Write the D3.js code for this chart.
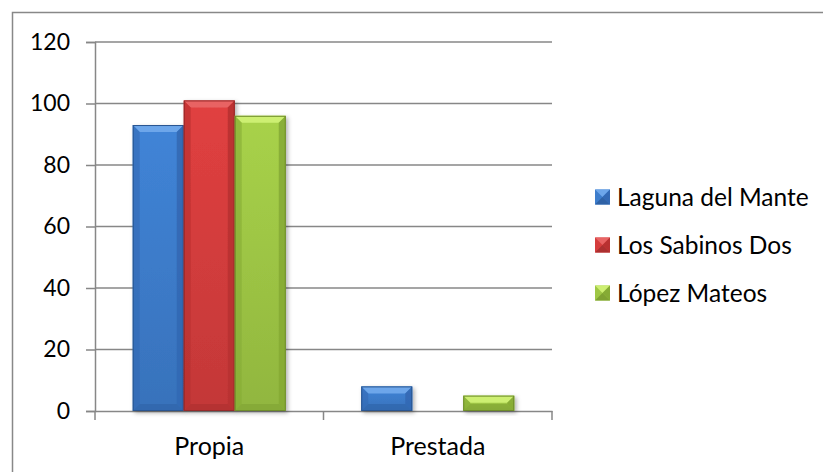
<!DOCTYPE html>
<html>
<head>
<meta charset="utf-8">
<script src="https://cdn.jsdelivr.net/npm/d3@7"></script>
<style>
  body { margin: 0; background: #fff; }
  svg { display: block; font-family: Lato, "Open Sans", sans-serif; }
</style>
</head>
<body>
<svg class="container"></svg>
<script>
const categories = ["Propia", "Prestada"];
const seriesNames = ["Laguna del Mante", "Los Sabinos Dos", "López Mateos"];
const lagunaDelMante = [93, 8];
const losSabinosDos = [101, 0];
const lopezMateos = [96, 5];
const yTicks = [0, 20, 40, 60, 80, 100, 120];

const seriesValues = [lagunaDelMante, losSabinosDos, lopezMateos];
const rows = categories.map((c, i) => ({
  category: c,
  values: seriesNames.map((s, k) => ({ key: s, value: seriesValues[k][i] }))
}));

// base, light top, dark side
const palette = {
  "Laguna del Mante": { base: "#3d7dcc", top: "#6da6ea", side: "#3369b4", bottom: "#2f62a6" },
  "Los Sabinos Dos": { base: "#d53d3d", top: "#e86464", side: "#b83131", bottom: "#ab3030" },
  "López Mateos": { base: "#9fc745", top: "#cdef72", side: "#86ab35", bottom: "#7fa232" }
};

const width = 823, height = 472;
const plot = { left: 95, right: 552, top: 42, bottom: 411 };

const svg = d3.select(".container").attr("width", width).attr("height", height);
const defs = svg.append("defs");

const shadow = defs.append("filter").attr("id", "shadow")
  .attr("x", "-20%").attr("y", "-20%").attr("width", "150%").attr("height", "150%");
shadow.append("feDropShadow").attr("dx", 2).attr("dy", 2).attr("stdDeviation", 2)
  .attr("flood-color", "#000").attr("flood-opacity", 0.3);

seriesNames.forEach((s, i) => {
  const g = defs.append("linearGradient").attr("id", "grad" + i)
    .attr("x1", 0).attr("y1", 0).attr("x2", 0).attr("y2", 1);
  g.append("stop").attr("offset", "0%").attr("stop-color", d3.color(palette[s].base).brighter(0.15));
  g.append("stop").attr("offset", "100%").attr("stop-color", d3.color(palette[s].base).darker(0.25));
});

// outer chart border (right/bottom fall outside the picture)
svg.append("rect").attr("x", 12.5).attr("y", 12.5).attr("width", 830).attr("height", 500)
  .attr("fill", "none").attr("stroke", "#888").attr("stroke-width", 1.5);

const x = d3.scaleBand().domain(categories).range([plot.left, plot.right]).padding(0);
const x1 = d3.scaleBand().domain(seriesNames).range([0, x.bandwidth()])
  .paddingInner(0).paddingOuter(0.74);
const y = d3.scaleLinear().domain([0, 120]).range([plot.bottom, plot.top]);

// gridlines
svg.append("g").selectAll("line").data(yTicks.filter(t => t > 0)).join("line")
  .attr("x1", plot.left).attr("x2", plot.right)
  .attr("y1", d => y(d)).attr("y2", d => y(d))
  .attr("stroke", "#878787").attr("stroke-width", 1.5);

// y axis
const yAxis = svg.append("g").attr("transform", `translate(${plot.left},0)`)
  .call(d3.axisLeft(y).tickValues(yTicks).tickSize(9).tickPadding(16));
yAxis.select(".domain").attr("stroke", "#878787").attr("stroke-width", 1.5);
yAxis.selectAll(".tick line").attr("stroke", "#878787").attr("stroke-width", 1.5);
yAxis.selectAll(".tick text").attr("font-size", 23).attr("fill", "#000")
  .attr("font-family", "Lato, sans-serif");

// x axis
const xAxis = svg.append("g").attr("transform", `translate(0,${plot.bottom})`)
  .call(d3.axisBottom(x).tickSize(0).tickPadding(26));
xAxis.select(".domain").attr("stroke", "#878787").attr("stroke-width", 1.5);
xAxis.selectAll(".tick text").attr("font-size", 25).attr("fill", "#000")
  .attr("font-family", "Lato, sans-serif");
svg.append("g").selectAll("line").data([0, 1, 2]).join("line")
  .attr("x1", i => plot.left + i * x.step()).attr("x2", i => plot.left + i * x.step())
  .attr("y1", plot.bottom).attr("y2", plot.bottom + 9)
  .attr("stroke", "#878787").attr("stroke-width", 1.5);

// bars with bevel
const groups = svg.append("g").selectAll("g").data(rows).join("g")
  .attr("transform", d => `translate(${x(d.category)},0)`);

const bars = groups.selectAll("g.bar").data(d => d.values.filter(v => v.value > 0)).join("g")
  .attr("class", "bar").attr("filter", "url(#shadow)");

bars.each(function (d) {
  const g = d3.select(this);
  const bx = x1(d.key), bw = x1.bandwidth();
  const by = y(d.value), bh = y(0) - y(d.value);
  const b = Math.min(7, bh / 2);
  const p = palette[d.key];
  const k = seriesNames.indexOf(d.key);
  g.append("rect").attr("x", bx).attr("y", by).attr("width", bw).attr("height", bh)
    .attr("fill", `url(#grad${k})`);
  const poly = pts => "M" + pts.map(q => q.join(",")).join("L") + "Z";
  g.append("path").attr("d", poly([[bx, by], [bx + bw, by], [bx + bw - b, by + b], [bx + b, by + b]]))
    .attr("fill", p.top);
  g.append("path").attr("d", poly([[bx, by], [bx + b, by + b], [bx + b, by + bh - b], [bx, by + bh]]))
    .attr("fill", p.side).attr("opacity", 0.6);
  g.append("path").attr("d", poly([[bx + bw, by], [bx + bw - b, by + b], [bx + bw - b, by + bh - b], [bx + bw, by + bh]]))
    .attr("fill", p.side).attr("opacity", 0.9);
  g.append("path").attr("d", poly([[bx, by + bh], [bx + b, by + bh - b], [bx + bw - b, by + bh - b], [bx + bw, by + bh]]))
    .attr("fill", p.bottom).attr("opacity", 0.6);
  g.append("rect").attr("x", bx + 0.5).attr("y", by + 0.5).attr("width", bw - 1).attr("height", bh - 1)
    .attr("fill", "none").attr("stroke", d3.color(p.bottom).darker(0.4)).attr("stroke-width", 1);
});

// legend
const legendY = d3.scalePoint().domain(seriesNames).range([197, 293]);
const legend = svg.append("g").selectAll("g").data(seriesNames).join("g")
  .attr("transform", d => `translate(595,${legendY(d)})`);
legend.each(function (s) {
  const g = d3.select(this);
  const p = palette[s];
  const sz = 15, h = sz / 2;
  g.append("rect").attr("x", 0).attr("y", -h).attr("width", sz).attr("height", sz).attr("fill", p.base);
  g.append("path").attr("d", `M0,${-h}L${sz},${-h}L${h},0Z`).attr("fill", p.top);
  g.append("path").attr("d", `M0,${h}L${sz},${h}L${h},0Z`).attr("fill", p.bottom);
  g.append("path").attr("d", `M${sz},${-h}L${sz},${h}L${h},0Z`).attr("fill", p.side);
  g.append("text").attr("x", 22).attr("y", 0).attr("dy", "0.35em")
    .attr("font-size", 24.5).attr("fill", "#000").text(s);
});
</script>
</body>
</html>
